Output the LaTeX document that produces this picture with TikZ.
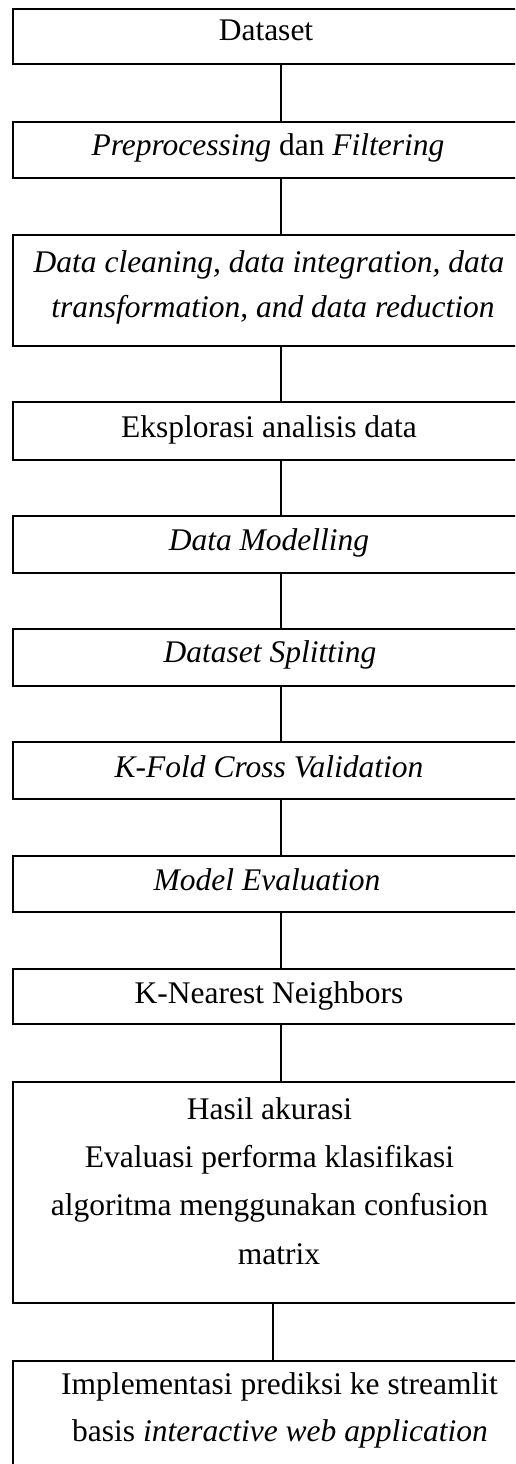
\documentclass[tikz,border=0pt]{standalone}
\usepackage{fontspec}
\setmainfont{Liberation Serif}
\begin{document}
\begin{tikzpicture}[x=1pt,y=-1pt,
  box/.style={draw, line width=2pt, rectangle, inner sep=0pt, outer sep=0pt, minimum width=517pt},
  txt/.style={anchor=base, inner sep=0pt, font=\fontsize{31.5pt}{36pt}\selectfont},
  link/.style={line width=2pt}]
\useasboundingbox (0,0) rectangle (515,1464);
\clip (0,0) rectangle (515,1464);
\fill[white] (0,0) rectangle (515,1464);
% boxes
\node[box, minimum height=55pt]  (b1)  at (271.5,36.5) {};
\node[box, minimum height=56pt]  (b2)  at (271.5,150) {};
\node[box, minimum height=111pt] (b3)  at (271.5,290.5) {};
\node[box, minimum height=58pt]  (b4)  at (271.5,431) {};
\node[box, minimum height=57pt]  (b5)  at (271.5,544.5) {};
\node[box, minimum height=57pt]  (b6)  at (271.5,657.5) {};
\node[box, minimum height=57pt]  (b7)  at (271.5,770.5) {};
\node[box, minimum height=56pt]  (b8)  at (271.5,884) {};
\node[box, minimum height=55pt]  (b9)  at (271.5,996.5) {};
\node[box, minimum height=221pt] (b10) at (271.5,1192.5) {};
\node[box, minimum height=119pt] (b11) at (271.5,1420.5) {};
% texts
\node[txt] (t1)  at (266,41)    {Dataset};
\node[txt] (t2)  at (268,155)   {\textit{Preprocessing} dan \textit{Filtering}};
\node[txt] (t3a) at (269,272)   {\textit{Data cleaning, data integration, data}};
\node[txt] (t3b) at (273,317)   {\textit{transformation, and data reduction}};
\node[txt] (t4)  at (269,437)   {Eksplorasi analisis data};
\node[txt] (t5)  at (269,550)   {\textit{Data Modelling}};
\node[txt] (t6)  at (270,662)   {\textit{Dataset Splitting}};
\node[txt] (t7)  at (269,777)   {\textit{K-Fold Cross Validation}};
\node[txt] (t8)  at (267,890)   {\textit{Model Evaluation}};
\node[txt] (t9)  at (269,1003)  {K-Nearest Neighbors};
\node[txt] (t10a) at (269.5,1119) {Hasil akurasi};
\node[txt] (t10b) at (269.5,1167) {Evaluasi performa klasifikasi};
\node[txt] (t10c) at (269.5,1215) {algoritma menggunakan confusion};
\node[txt] (t10d) at (279,1264)   {matrix};
\node[txt] (t11a) at (279.5,1394) {Implementasi prediksi ke streamlit};
\node[txt] (t11b) at (280,1441)   {basis \textit{interactive web application}};
% connectors
\coordinate (k) at (281,0);
\coordinate (kl) at (273,0);
\draw[link] (b1.south -| k) -- (b2.north -| k);
\draw[link] (b2.south -| k) -- (b3.north -| k);
\draw[link] (b3.south -| k) -- (b4.north -| k);
\draw[link] (b4.south -| k) -- (b5.north -| k);
\draw[link] (b5.south -| k) -- (b6.north -| k);
\draw[link] (b6.south -| k) -- (b7.north -| k);
\draw[link] (b7.south -| k) -- (b8.north -| k);
\draw[link] (b8.south -| k) -- (b9.north -| k);
\draw[link] (b9.south -| k) -- (b10.north -| k);
\draw[link] (b10.south -| kl) -- (b11.north -| kl);
\end{tikzpicture}
\end{document}
